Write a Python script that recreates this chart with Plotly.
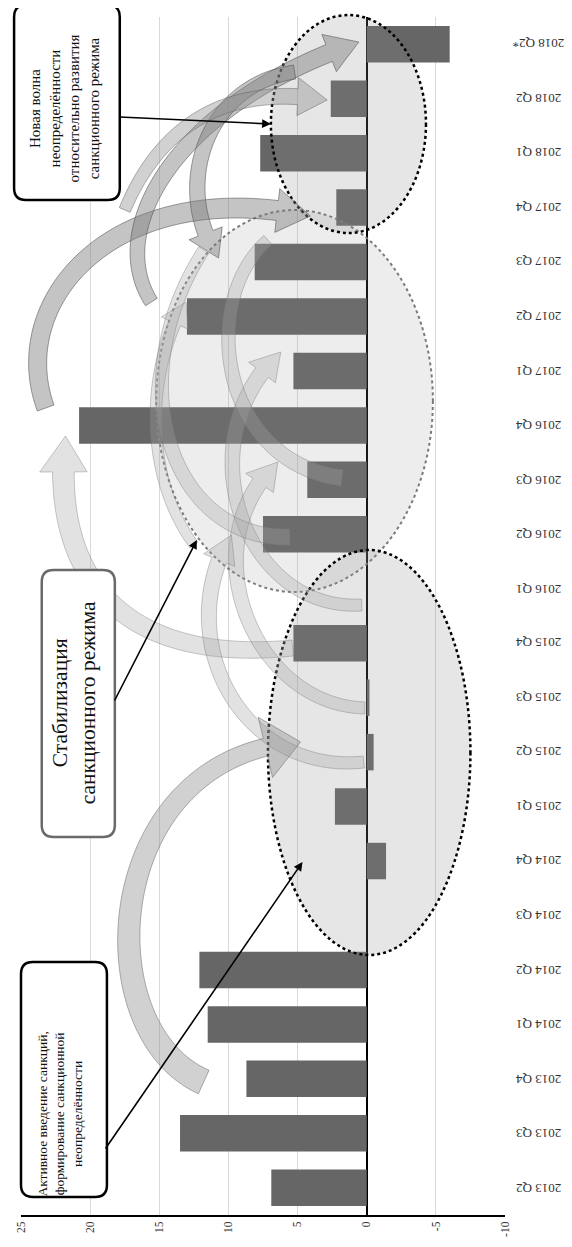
import numpy as np
import plotly.graph_objects as go

categories = ["2013 Q2", "2013 Q3", "2013 Q4", "2014 Q1", "2014 Q2", "2014 Q3", "2014 Q4",
              "2015 Q1", "2015 Q2", "2015 Q3", "2015 Q4", "2016 Q1", "2016 Q2", "2016 Q3",
              "2016 Q4", "2017 Q1", "2017 Q2", "2017 Q3", "2017 Q4", "2018 Q1", "2018 Q2", "2018 Q2*"]
values = [6.9, 13.5, 8.7, 11.5, 12.1, 0.0, -1.4, 2.3, -0.5, -0.2, 5.3, 0.0, 7.5, 4.3,
          20.8, 5.3, 13.0, 8.1, 2.2, 7.7, 2.6, -6.0]
x_ticks = [25, 20, 15, 10, 5, 0, -5, -10]
x_tick_text = ["25", "20", "15", "10", "5", "0", "-5", "-10"]

box_texts = [
    "Активное введение санкций,<br>формирование санкционной<br>неопределённости",
    "Стабилизация<br>санкционного режима",
    "Новая волна<br>неопределённости<br>относительно развития<br>санкционного режима",
]

# page geometry (the page body has an 8px margin)
OFF = 8
W, H = 564, 1239
PX0, PX1, PY0, PY1 = 15, 505, 17, 1215          # plot area in page pixels
ML, MR = PX0 - OFF, W - (PX1 - OFF)
MT, MB = PY0 - OFF, H - (PY1 - OFF)
PW, PH = PX1 - PX0, PY1 - PY0
FONT = "Liberation Serif"


def px(x):
    return (x - PX0) / PW


def py(y):
    return (PY1 - y) / PH


def bez(P, n=90):
    t = np.linspace(0, 1, n)[:, None]
    P = np.array(P, float)
    if len(P) == 3:
        return (1 - t) ** 2 * P[0] + 2 * (1 - t) * t * P[1] + t ** 2 * P[2]
    return ((1 - t) ** 3 * P[0] + 3 * (1 - t) ** 2 * t * P[1]
            + 3 * (1 - t) * t ** 2 * P[2] + t ** 3 * P[3])


def arrow_path(P, w0, w1, hw, hl, head=True):
    pts = bez(P)
    seg = np.diff(pts, axis=0)
    L = np.r_[0, np.cumsum(np.hypot(seg[:, 0], seg[:, 1]))]
    if head:
        cut = L[-1] - hl
        idx = np.searchsorted(L, cut)
        base = np.array([np.interp(cut, L, pts[:, 0]), np.interp(cut, L, pts[:, 1])])
        body = np.vstack([pts[:idx], base])
    else:
        body = pts
    d = np.gradient(body, axis=0)
    nrm = np.stack([-d[:, 1], d[:, 0]], 1)
    nrm /= np.linalg.norm(nrm, axis=1)[:, None]
    wid = np.linspace(w0, w1, len(body))[:, None] / 2
    left = body + nrm * wid
    right = body - nrm * wid
    poly = list(left)
    if head:
        b = body[-1]
        nb = nrm[-1]
        poly += [b + nb * hw / 2, pts[-1], b - nb * hw / 2]
    poly += list(right[::-1])
    return "M " + " L ".join(f"{px(x):.5f},{py(y):.5f}" for x, y in poly) + " Z"


def rrect(x0, y0, x1, y1, r):
    p = [("M", (x0 + r, y0)), ("L", (x1 - r, y0)), ("Q", (x1, y0), (x1, y0 + r)),
         ("L", (x1, y1 - r)), ("Q", (x1, y1), (x1 - r, y1)), ("L", (x0 + r, y1)),
         ("Q", (x0, y1), (x0, y1 - r)), ("L", (x0, y0 + r)), ("Q", (x0, y0), (x0 + r, y0))]
    s = ""
    for item in p:
        s += item[0] + " " + " ".join(f"{px(a):.5f},{py(b):.5f}" for a, b in item[1:]) + " "
    return s + "Z"


fig = go.Figure()
fig.add_trace(go.Bar(
    x=values, y=list(range(len(categories))), orientation="h",
    marker=dict(color="#666666", line=dict(width=0)),
))

shapes = []
ell_style = [
    ((152, 210, 432, 592), "#7a7a7a", 2, "rgba(140,140,140,0.16)"),
    ((265, 550, 470, 955), "#000000", 2.5, "rgba(140,140,140,0.22)"),
    ((268, 15, 425, 233), "#000000", 2.5, "rgba(140,140,140,0.22)"),
]
for (x0, y0, x1, y1), lc, lw, fc in ell_style:
    shapes.append(dict(type="circle", xref="paper", yref="paper",
                       x0=px(x0), x1=px(x1), y0=py(y1), y1=py(y0),
                       line=dict(color=lc, width=lw, dash="dot"), fillcolor=fc, layer="above"))

DARK = ("rgba(125,125,125,0.45)", "rgba(80,80,80,0.7)")
MID = ("rgba(140,140,140,0.40)", "rgba(95,95,95,0.6)")
LIGHT = ("rgba(165,165,165,0.32)", "rgba(120,120,120,0.5)")
arrows = [
    # top cluster
    ([(40, 408), (0, 300), (110, 175), (308, 216)], 18, 20, 44, 34, True, DARK),
    ([(147, 302), (100, 230), (170, 105), (357, 42)], 14, 18, 40, 32, True, DARK),
    ([(292, 72), (200, 85), (168, 190), (215, 258)], 14, 16, 36, 28, True, DARK),
    ([(120, 210), (160, 115), (235, 85), (325, 100)], 12, 16, 38, 30, True, MID),
    # middle cluster
    ([(290, 648), (110, 665), (45, 570), (60, 436)], 16, 22, 48, 36, True, LIGHT),
    ([(190, 545), (135, 470), (145, 360), (182, 302)], 10, 13, 30, 24, True, LIGHT),
    ([(360, 605), (240, 612), (180, 440), (278, 352)], 12, 16, 34, 28, True, LIGHT),
    ([(363, 708), (250, 705), (185, 545), (275, 462)], 12, 16, 34, 28, True, LIGHT),
    ([(362, 762), (240, 775), (165, 640), (228, 535)], 12, 16, 34, 28, True, LIGHT),
    ([(200, 250), (115, 380), (165, 540), (287, 537)], 12, 16, 0, 0, False, LIGHT),
    ([(265, 240), (195, 300), (215, 462), (340, 478)], 12, 16, 0, 0, False, LIGHT),
    # bottom cluster
    ([(200, 1082), (80, 1030), (95, 755), (298, 742)], 26, 18, 62, 36, True, MID),
]
for P, w0, w1, hw, hl, head, style in arrows:
    shapes.append(dict(type="path", xref="paper", yref="paper",
                       path=arrow_path(P, w0, w1, hw, hl, head),
                       fillcolor=style[0], line=dict(color=style[1], width=0.8), layer="above"))

boxes = [
    ((15, 962, 102, 1197), "#000000"),
    ((36, 570, 110, 837), "#6a6a6a"),
    ((8, 5, 115, 200), "#000000"),
]
for (x0, y0, x1, y1), lc in boxes:
    shapes.append(dict(type="path", xref="paper", yref="paper", path=rrect(x0, y0, x1, y1, 12),
                       fillcolor="white", line=dict(color=lc, width=2.5), layer="above"))

annotations = []
text_specs = [((54, 1114), 13.5), ((69, 703), 21.5), ((59, 108), 15)]
for txt, ((cx, cy), fs) in zip(box_texts, text_specs):
    annotations.append(dict(xref="paper", yref="paper", x=px(cx), y=py(cy), text=txt,
                            showarrow=False, textangle=-90, align="center",
                            font=dict(family=FONT, size=fs, color="#111111"),
                            xanchor="center", yanchor="middle"))

# category labels (upside-down, right of the plot)
for i, cat in enumerate(categories):
    annotations.append(dict(xref="paper", yref="y", x=px(539), y=i, text=cat,
                            showarrow=False, textangle=180,
                            font=dict(family=FONT, size=13, color="#333333"),
                            xanchor="center", yanchor="middle"))

callouts = [((102, 1150), (300, 862)), ((110, 702), (193, 540)), ((115, 117), (268, 124))]
for (sx, sy), (tx, ty) in callouts:
    annotations.append(dict(xref="paper", yref="paper", x=px(tx), y=py(ty), text="",
                            showarrow=True, axref="pixel", ayref="pixel",
                            ax=sx - tx, ay=sy - ty, arrowhead=2, arrowsize=1.1,
                            arrowwidth=1.6, arrowcolor="#000000", standoff=0))

fig.update_layout(
    width=W, height=H,
    margin=dict(l=ML, r=MR, t=MT, b=MB, pad=0),
    paper_bgcolor="white", plot_bgcolor="white",
    showlegend=False, bargap=0.33,
    font=dict(family=FONT, size=11, color="#333333"),
    shapes=shapes, annotations=annotations,
    xaxis=dict(range=[25, -10], tickvals=x_ticks, ticktext=x_tick_text, tickangle=-90,
               showgrid=True, gridcolor="#d9d9d9", gridwidth=1,
               zeroline=True, zerolinecolor="#000000", zerolinewidth=2,
               showline=True, linecolor="#000000", linewidth=2, ticks="",
               tickfont=dict(family=FONT, size=11.5, color="#333333")),
    yaxis=dict(range=[-0.5, len(categories) - 0.5], tickvals=list(range(len(categories))),
               ticktext=categories, side="right", showticklabels=False, showgrid=False,
               zeroline=False, showline=False, ticks=""),
)

fig.write_html("out.html")
